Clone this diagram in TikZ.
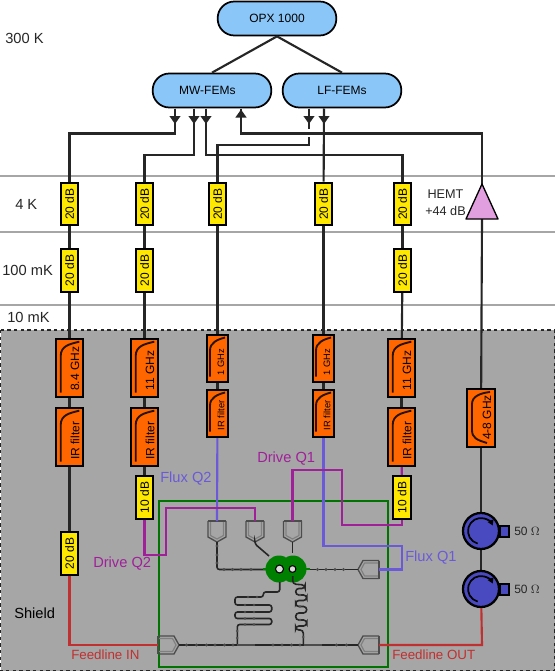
\documentclass[tikz,border=0pt]{standalone}
\usepackage{fontspec}
\setmainfont{Liberation Sans}
\usetikzlibrary{arrows.meta,backgrounds}
\definecolor{femblue}{HTML}{8AC6F7}
\definecolor{shieldgray}{HTML}{A6A6A6}
\definecolor{attyellow}{HTML}{FFE800}
\definecolor{filtorange}{HTML}{FF6600}
\definecolor{hemtpink}{HTML}{E29FDF}
\definecolor{circblue}{HTML}{4A4AC0}
\definecolor{drivecol}{HTML}{A0209A}
\definecolor{fluxcol}{HTML}{6A5AD8}
\definecolor{feedcol}{HTML}{C03030}
\definecolor{chipgreen}{HTML}{008000}
\tikzset{
  fem/.style={draw,line width=1.3pt,fill=femblue,rounded corners=12.5pt,minimum width=89pt,minimum height=25.5pt,font=\fontsize{9}{10}\selectfont},
  atten/.style={draw,line width=1.6pt,fill=attyellow,rotate=90,minimum width=32pt,minimum height=13pt,inner sep=0pt,font=\fontsize{9}{10}\selectfont},
  filtbox/.style={draw,line width=1.6pt,fill=filtorange,rotate=90,minimum width=43.5pt,minimum height=20.5pt,inner sep=0pt},
  filtsmall/.style={filtbox,minimum width=35.5pt,minimum height=16pt},
  filttext/.style={rotate=90,anchor=west,inner sep=0pt,font=\fontsize{9}{10}\selectfont},
  smalltext/.style={filttext,font=\fontsize{7}{8}\selectfont},
  filtcurve/.style={line width=1.4pt,black!85!orange},
  wire/.style={line width=1.6pt,black!85},
  tipwire/.style={wire,-{Triangle[width=8pt,length=6pt]}},
  drivewire/.style={line width=1.6pt,drivecol},
  fluxwire/.style={line width=1.6pt,fluxcol},
  feedwire/.style={line width=1.6pt,feedcol},
  tempgrid/.style={line width=1.4pt,black!35},
  templabel/.style={font=\fontsize{11}{12}\selectfont,text=black!85,inner sep=0pt},
  sigdrive/.style={templabel,text=drivecol},
  sigflux/.style={templabel,text=fluxcol},
  sigfeed/.style={templabel,text=feedcol,font=\fontsize{10}{12}\selectfont},
  circulator/.style={circle,draw,line width=1.7pt,fill=circblue,minimum size=27pt,inner sep=0pt},
  loadbox/.style={draw,line width=1.5pt,fill=circblue,minimum width=6.5pt,minimum height=8pt,inner sep=0pt},
  ohmtext/.style={font=\fontsize{9}{10}\selectfont,text=black!85,anchor=west,inner sep=0pt},
  chipline/.style={line width=1.2pt,black!85,rounded corners=1.8pt},
  bridge/.style={fill=black!70},
  pics/chipport/.style={code={
    \draw[line width=1pt,black!70,line join=round] (-9,0) -- (-9,16) -- (0,21) -- (9,16) -- (9,0);
    \draw[line width=.9pt,black!50,line join=round] (-6.5,0) -- (-6.5,14.5) -- (0,18) -- (6.5,14.5) -- (6.5,0);
    \draw[line width=.9pt,black!70] (-9,0) -- (9,0);
  }}
}
\begin{document}
\begin{tikzpicture}[x=0.75pt,y=-0.75pt]
\useasboundingbox (0,0) rectangle (555,671);
\begin{scope}[on background layer]
% Temperature stages
\draw[tempgrid] (0,176) -- (555,176);
\draw[tempgrid] (0,232) -- (555,232);
\draw[tempgrid] (0,305) -- (555,305);
% Shield
\draw[black!85,line width=1pt,dash pattern=on 2.5pt off 2.5pt,fill=shieldgray] (0.5,330) rectangle (554.5,671);
\end{scope}
\node[templabel,anchor=west] (t300) at (5,38) {300 K};
\node[templabel,anchor=west] (t4) at (15,204) {4 K};
\node[templabel,anchor=west] (t100) at (2,270) {100 mK};
\node[templabel,anchor=west] (t10) at (7,317) {10 mK};
\node[templabel,text=black,anchor=west] (shield) at (14,613) {Shield};

% Control electronics
\node[fem] (opx) at (277,18.5) {OPX 1000};
\node[fem] (mw) at (212,90.5) {MW-FEMs\hspace*{7pt}};
\node[fem] (lf) at (342,90.5) {LF-FEMs};
\draw[wire] (opx.south) -- (mw.north);
\draw[wire] (opx.south) -- (lf.north);

% Attenuators
\foreach \n/\x/\y/\t in {a1/69.5/204/20 dB, a2/69.5/270.5/20 dB, a3/69.5/553.5/20 dB,
    b1/144.5/204/20 dB, b2/144.5/270.5/20 dB, b3/144.5/497.5/10 dB,
    c1/217.5/204/20 dB, d1/323.5/204/20 dB,
    e1/402.5/204/20 dB, e2/402.5/270.5/20 dB, e3/402/497.5/10 dB} {
    \node[atten] (\n) at (\x,\y) {\t};
}

% Filters
\foreach \n/\x/\y/\t in {af/69.5/368/8.4 GHz, ai/69.5/437/IR filter,
    bf/144.5/368/11 GHz, bi/144.5/437/IR filter,
    ef/401.5/368/11 GHz, ei/401.5/437/IR filter} {
    \node[filtbox] (\n) at (\x,\y) {};
    \draw[filtcurve] ([shift={(-8.8,24.7)}]\n.center) -- ([shift={(-8.8,-12)}]\n.center)
        .. controls ([shift={(-8.8,-22)}]\n.center) and ([shift={(0,-24)}]\n.center) .. ([shift={(9.8,-26.3)}]\n.center);
    \node[filttext] (\n t) at ([shift={(5.5,23)}]\n.center) {\t};
}
\foreach \n/\x/\y/\t in {cf/217.5/358.5/1 GHz, ci/217.5/413.5/IR filter,
    df/323.5/358.5/1 GHz, di/323.5/413.5/IR filter} {
    \node[filtsmall] (\n) at (\x,\y) {};
    \draw[filtcurve] ([shift={(-7.5,18)}]\n.center) -- ([shift={(-7.5,-8)}]\n.center)
        .. controls ([shift={(-7.5,-16)}]\n.center) and ([shift={(0,-19)}]\n.center) .. ([shift={(7.5,-21)}]\n.center);
    \node[smalltext] (\n t) at ([shift={(3.5,17)}]\n.center) {\t};
}
\node[filtbox] (rf) at (481,418) {};
\draw[filtcurve] ([shift={(6,25)}]rf.center) .. controls ([shift={(-4,22)}]rf.center) and ([shift={(-9,20)}]rf.center) .. ([shift={(-9,12)}]rf.center)
    -- ([shift={(-9,-14)}]rf.center) .. controls ([shift={(-9,-22)}]rf.center) and ([shift={(0,-25)}]rf.center) .. ([shift={(9,-26)}]rf.center);
\node[filttext] (rft) at ([shift={(6,22)}]rf.center) {4-8 GHz};

% HEMT
\coordinate (hemttop) at (482,184);
\coordinate (hemtbot) at (482,219);
\draw[line width=1pt,fill=hemtpink,line join=round] (hemttop) -- (498,219) -- (466,219) -- cycle;
\node[font=\fontsize{9.5}{13}\selectfont,align=center,text=black!85,inner sep=0pt] (hemt) at (445.5,202.5) {HEMT\\+44 dB};

% Circulators
\node[loadbox] (l1) at (504.5,531.5) {};
\node[loadbox] (l2) at (504.5,589.5) {};
\node[circulator] (q1) at (481,531) {};
\node[circulator] (q2) at (481,589) {};
\node[ohmtext] (o1) at (514,531.5) {50 $\Omega$};
\node[ohmtext] (o2) at (514,589.5) {50 $\Omega$};
\foreach \n in {q1,q2} {
    \draw[line width=1.3pt,-{Triangle[width=4.5pt,length=4pt]}] ([shift={(105:13)}]\n.center) arc[start angle=105,end angle=335,radius=13];
}

% Chip box
\draw[line width=1.5pt,chipgreen!90!black] (159,501) rectangle (388,667);

% Chip ports
\pic at (217,521) {chipport};
\pic at (255,521) {chipport};
\pic at (292.5,521) {chipport};
\pic[rotate=-90] at (379,569.5) {chipport};
\pic[rotate=-90] at (379,645) {chipport};
\pic[rotate=90] at (158,645) {chipport};

% Qubit pair
\draw[chipline] (217,542) -- (217,569.5) -- (268,569.5);
\draw[chipline] (255,542) -- (255,544) -- (269,556);
\draw[chipline] (292.5,542) -- (292.5,553);
\draw[chipline] (358,569.5) -- (304,569.5);
\fill[chipgreen] (279,569) circle (13.5);
\fill[chipgreen] (293,569) circle (13.5);
\draw[line width=1.4pt,chipgreen] (263,569) -- (310,569);
\draw[line width=.8pt,fill=shieldgray!40!white] (279.5,569) circle (4);
\draw[line width=.8pt,fill=shieldgray!40!white] (292.5,569) circle (3.4);

% Readout lines
\draw[chipline] (279.7,582) -- (279.7,592) -- (263.3,592) -- (263.3,597) -- (235,597) -- (235,605) -- (271.7,605) -- (271.7,612) -- (235,612) -- (235,618.5) -- (271.7,618.5) -- (271.7,624.5) -- (237.3,624.5) -- (237.3,645);
\draw[chipline,rounded corners=2.4pt] (292.7,576) -- (292.7,584) -- (305,585) -- (305,588.5) -- (295.7,588.5) -- (295.7,595) -- (306.7,595) -- (306.7,600.5) -- (295.7,600.5) -- (295.7,606.5) -- (306.7,606.5) -- (306.7,613) -- (295.7,613) -- (295.7,620) -- (306.7,620) -- (306.7,626) -- (295.7,626) -- (295.7,630) -- (303.3,630) -- (303.3,645);
\draw[chipline] (179,645) -- (358,645);
\draw[line width=1.8pt,black!70] (237,645) -- (255,645);
\draw[line width=1.8pt,black!70] (304,645) -- (322,645);
% Bridges
\foreach \x in {186.5,196.5,206.5,215,224.5,233,273,282,291.5,300,336.5,346.5} {
    \fill[bridge] (\x,645) circle (1.6);
}
\foreach \x in {224,232.5,241,251,317.5,326,335,343.5} {
    \fill[bridge] (\x,569.5) circle (1.6);
}
\foreach \y in {546,555,563} {
    \fill[bridge] (217,\y) circle (1.6);
}
\foreach \x/\y in {248/597,257/597,245/605,254/605,245/612,254/612,245/618.5,254/618.5,245/624.5,254/624.5,237.3/631,237.3/638,300/595,300/606.5,300/620,303.3/637} {
    \fill[bridge] (\x,\y) circle (1.4);
}

% Signal routing
\coordinate (mwa) at (175,108.5);
\coordinate (mwb) at (194,108.5);
\coordinate (mwc) at (206,108.5);
\coordinate (mwd) at (241,108.5);
\coordinate (lfa) at (309,108.5);
\coordinate (lfb) at (324,108.5);
\begin{scope}[on background layer]
\draw[wire] (mwa) -- (175,133.5) -- (69.5,133.5) -- (a1);
\draw[wire] (mwb) -- (194,155) -- (144.5,155) -- (b1);
\draw[wire] (mwc) -- (206,155) -- (402.5,155) -- (e1);
\draw[wire] (mwd) -- (241,133.5) -- (482,133.5) -- (hemttop);
\draw[wire] (lfa) -- (309,129);
\draw[wire] (309,137) -- (309,145) -- (217.5,145) -- (c1);
\draw[wire] (lfb) -- (d1);
\draw[wire] (hemtbot) -- (rf);
\draw[wire] (rf) -- (q1);
\draw[wire] (q1) -- (q2);
\draw[wire] (a1) -- (a2);
\draw[wire] (a2) -- (af);
\draw[wire] (af) -- (ai);
\draw[wire] (ai) -- (a3);
\draw[wire] (b1) -- (b2);
\draw[wire] (b2) -- (bf);
\draw[wire] (bf) -- (bi);
\draw[wire] (bi) -- (b3);
\draw[wire] (e1) -- (e2);
\draw[wire] (e2) -- (ef);
\draw[wire] (ef) -- (ei);
\draw[wire] (c1) -- (cf);
\draw[wire] (cf) -- (ci);
\draw[wire] (d1) -- (df);
\draw[wire] (df) -- (di);
\draw[drivewire] (ei) -- (e3);
\end{scope}
\draw[tipwire] (mwa) -- (175,124);
\draw[tipwire] (mwb) -- (194,124);
\draw[tipwire] (mwc) -- (206,124);
\draw[tipwire] (lfa) -- (309,124);
\draw[tipwire] (lfb) -- (324,124);
\draw[wire,{Triangle[width=8pt,length=6pt]}-] (241,109.5) -- (241,124);
\draw[fluxwire] (ci) -- (217,521);
\draw[fluxwire] (di) -- (323.5,546) -- (402,546) -- (402,569.5) -- (379,569.5);
\draw[drivewire] (e3) -- (402,525) -- (342,525) -- (342,470) -- (292.5,470) -- (292.5,521);
\draw[drivewire] (b3) -- (144.5,555) -- (166,555) -- (166,508) -- (255,508) -- (255,521);
\draw[feedwire] (a3) -- (69.5,645) -- (158,645);
\draw[feedwire] (379,645) -- (482,645) -- (q2);
\node[sigflux,anchor=west] (fq2) at (160,479) {Flux Q2};
\node[sigflux,anchor=west] (fq1) at (405,558) {Flux Q1};
\node[sigdrive,anchor=west] (dq1) at (257,459) {Drive Q1};
\node[sigdrive,anchor=west] (dq2) at (93,564) {Drive Q2};
\node[sigfeed,anchor=west] (fin) at (71,655) {Feedline IN};
\node[sigfeed,anchor=west] (fout) at (392,655) {Feedline OUT};
\end{tikzpicture}
\end{document}
